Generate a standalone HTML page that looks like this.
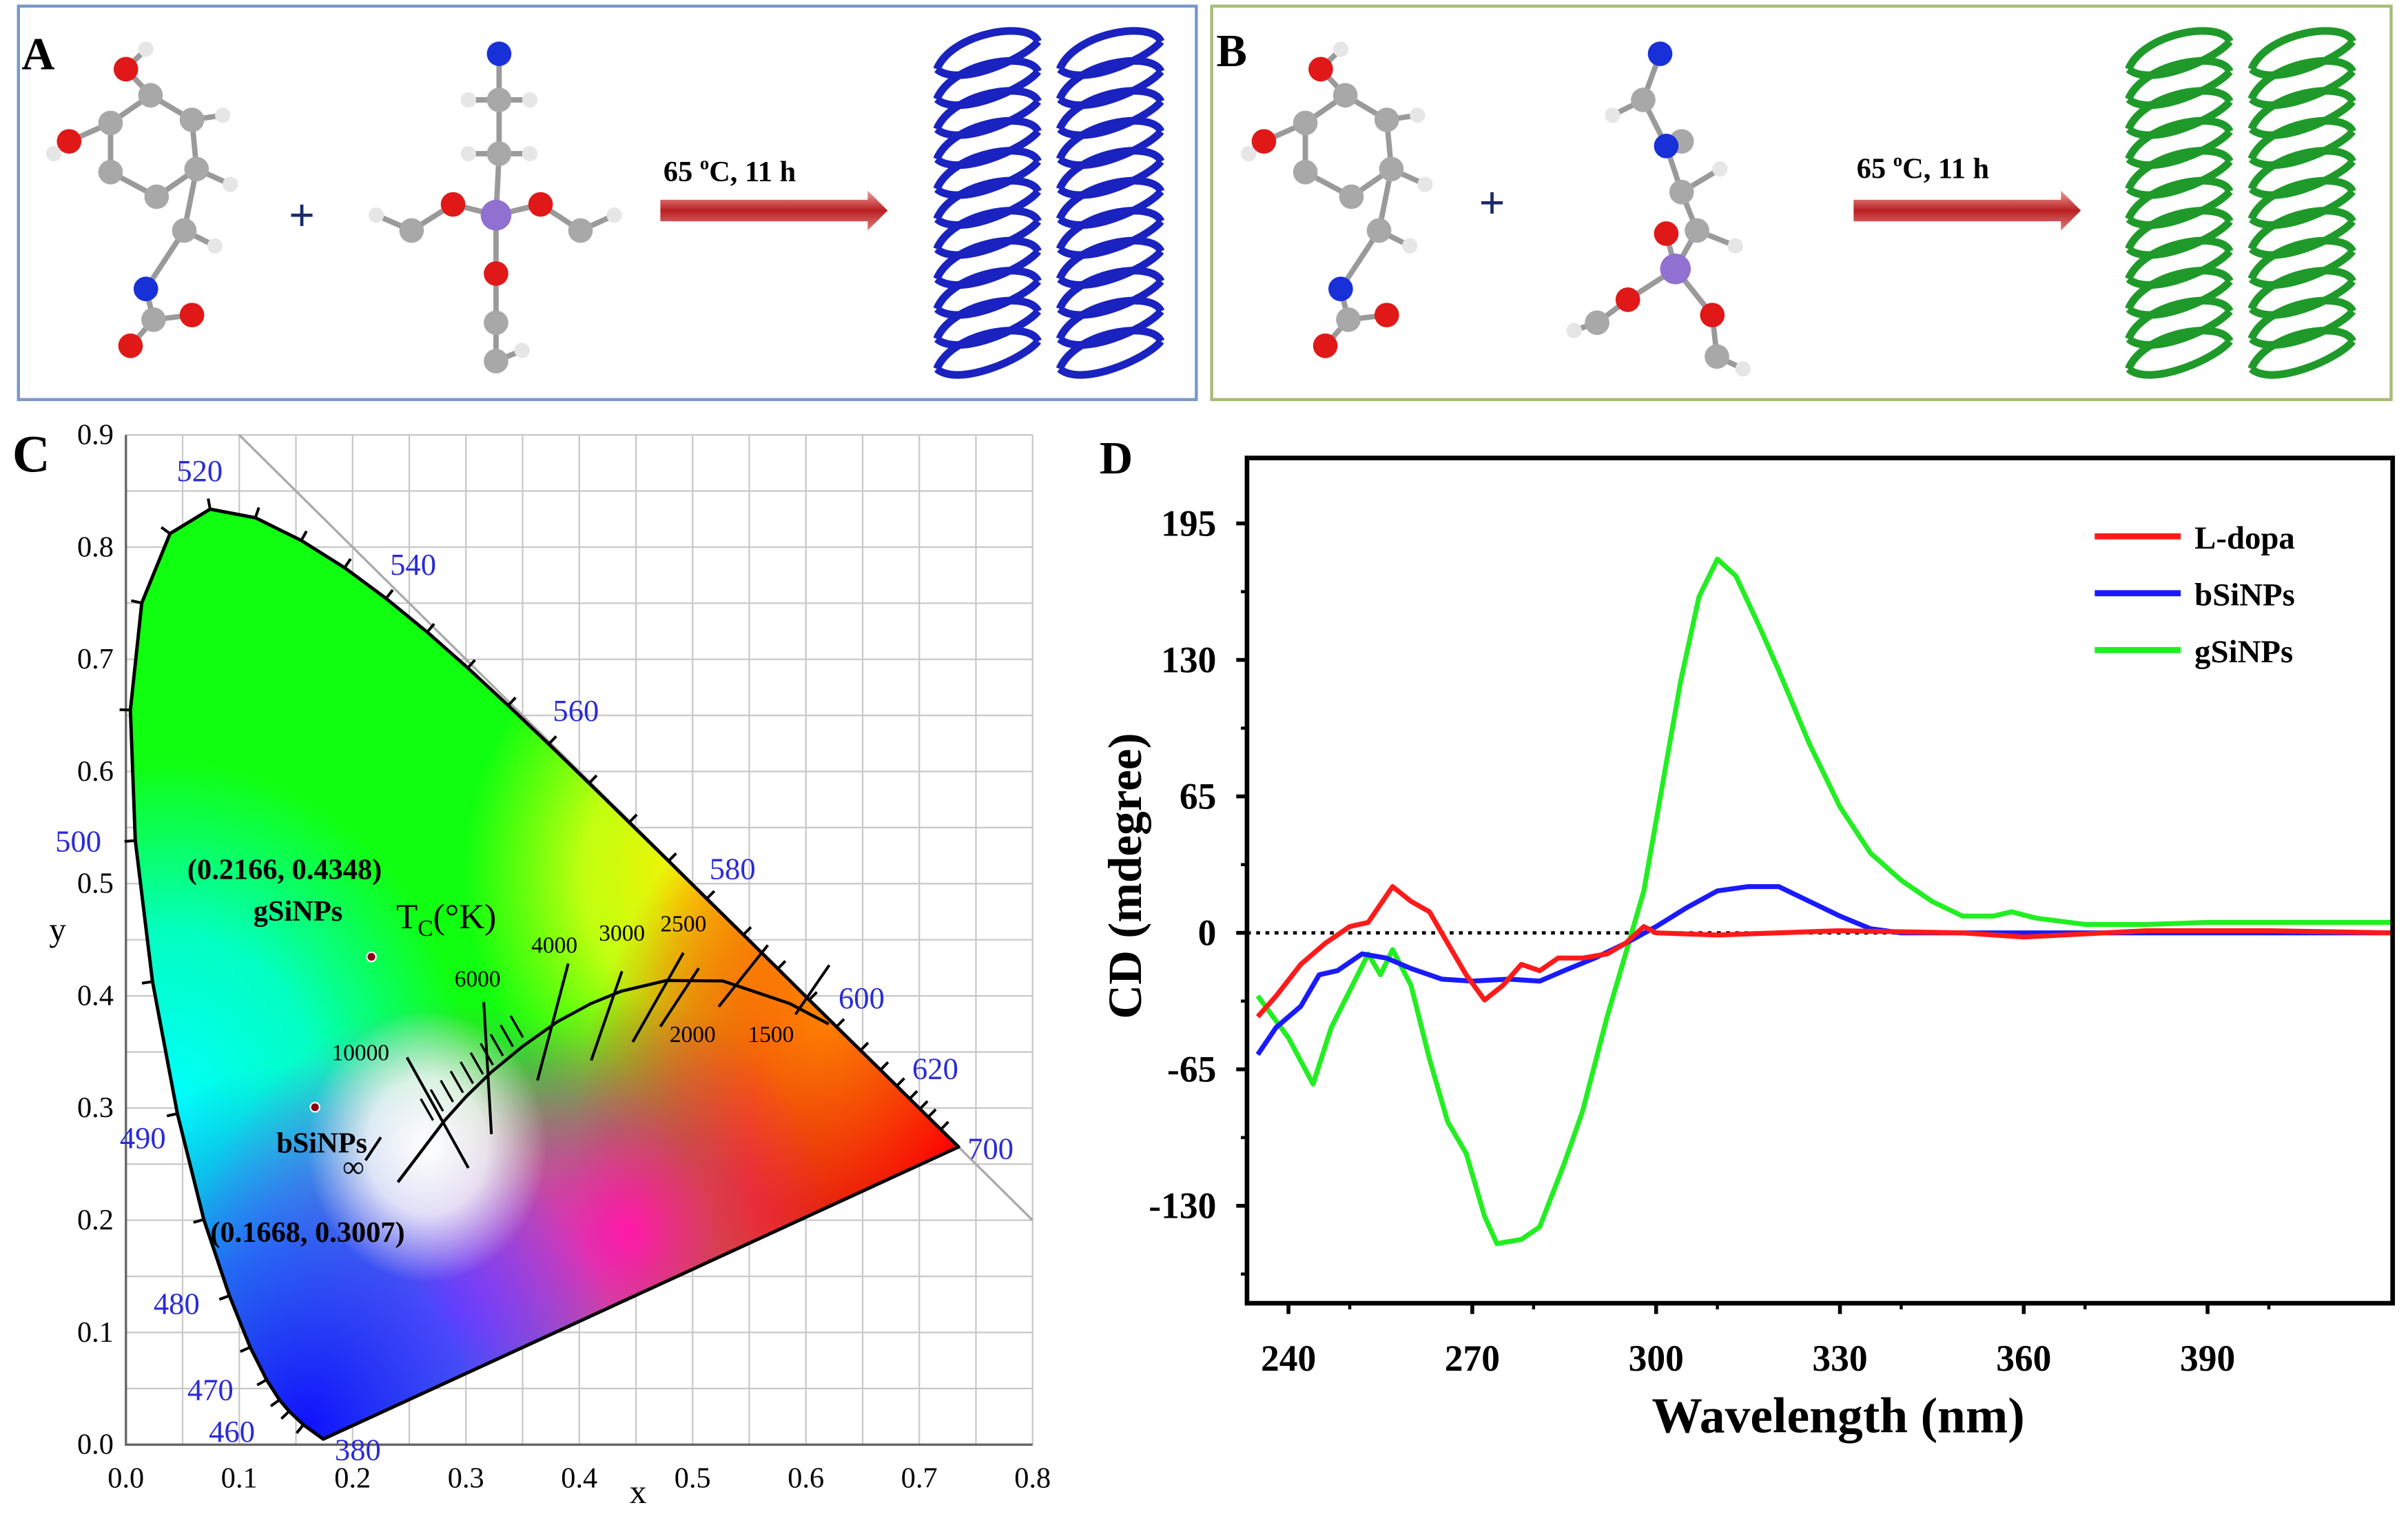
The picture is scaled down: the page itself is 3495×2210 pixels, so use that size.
<!DOCTYPE html>
<html><head><meta charset="utf-8"><style>
html,body{margin:0;padding:0;background:#fff;}
svg{display:block;font-family:"Liberation Serif",serif;}
</style></head><body>
<svg id="root" width="3495" height="2210" viewBox="0 0 1568 991" preserveAspectRatio="none" xmlns="http://www.w3.org/2000/svg">
<defs>
<radialGradient id="gRed" cx="0.91" cy="0.70" r="0.42"><stop offset="0" stop-color="#ff0000"/><stop offset="0.55" stop-color="#ff1010" stop-opacity="0.85"/><stop offset="1" stop-color="#ff0000" stop-opacity="0"/></radialGradient>
<radialGradient id="gOrange" cx="0.76" cy="0.56" r="0.2"><stop offset="0" stop-color="#ff8800"/><stop offset="1" stop-color="#ff8800" stop-opacity="0"/></radialGradient>
<radialGradient id="gBlue" cx="0.2" cy="0.97" r="0.35"><stop offset="0" stop-color="#1010ff"/><stop offset="0.5" stop-color="#2050ff" stop-opacity="0.8"/><stop offset="1" stop-color="#2060ff" stop-opacity="0"/></radialGradient>
<radialGradient id="gCyan" cx="0.05" cy="0.66" r="0.33"><stop offset="0" stop-color="#00ffff"/><stop offset="0.5" stop-color="#00ffee" stop-opacity="0.8"/><stop offset="1" stop-color="#00ffe0" stop-opacity="0"/></radialGradient>
<radialGradient id="gYel" cx="0.63" cy="0.44" r="0.26"><stop offset="0" stop-color="#ffee00"/><stop offset="0.5" stop-color="#eeff10" stop-opacity="0.8"/><stop offset="1" stop-color="#ddff00" stop-opacity="0"/></radialGradient>
<radialGradient id="gMag" cx="0.36" cy="0.86" r="0.3"><stop offset="0" stop-color="#ff10ff"/><stop offset="1" stop-color="#ff00ff" stop-opacity="0"/></radialGradient>
<radialGradient id="gPink" cx="0.55" cy="0.78" r="0.22"><stop offset="0" stop-color="#ff2080"/><stop offset="1" stop-color="#ff2080" stop-opacity="0"/></radialGradient>
<radialGradient id="gWhite" cx="0.33" cy="0.70" r="0.13"><stop offset="0" stop-color="#ffffff"/><stop offset="0.5" stop-color="#ffffff" stop-opacity="0.8"/><stop offset="1" stop-color="#ffffff" stop-opacity="0"/></radialGradient>
<linearGradient id="arrowG" x1="0" y1="0" x2="0" y2="1"><stop offset="0" stop-color="#f0a0a0"/><stop offset="0.5" stop-color="#b82020"/><stop offset="1" stop-color="#e08080"/></linearGradient>
<clipPath id="locusClip"><path id="locusClipPath" d=""/></clipPath>
</defs>

<g>
<rect x="12" y="4" width="767" height="256" fill="none" stroke="#7a98c8" stroke-width="2"/>
<text x="14" y="45" font-size="30" font-weight="bold">A</text>
<g id="molA1"></g>
<text x="188" y="150" font-size="30" fill="#1a2a6a" font-weight="bold">+</text>
<g id="molA2"></g>
<text x="432" y="118" font-size="19" font-weight="bold">65 <tspan font-size="12" dy="-8">o</tspan><tspan dy="8">C, 11 h</tspan></text>
<path d="M430,130 L565,130 L565,124 L578,137 L565,150 L565,144 L430,144 Z" fill="url(#arrowG)"/>
<g id="helixA"></g>
</g>

<g>
<rect x="789" y="4" width="768" height="256" fill="none" stroke="#a8bc78" stroke-width="2"/>
<text x="792" y="43" font-size="30" font-weight="bold">B</text>
<g id="molB1"></g>
<text x="963" y="142" font-size="30" fill="#1a2a6a" font-weight="bold">+</text>
<g id="molB2"></g>
<text x="1209" y="116" font-size="19" font-weight="bold">65 <tspan font-size="12" dy="-8">o</tspan><tspan dy="8">C, 11 h</tspan></text>
<path d="M1207,130 L1342,130 L1342,124 L1355,137 L1342,150 L1342,144 L1207,144 Z" fill="url(#arrowG)"/>
<g id="helixB"></g>
</g>

<g id="panelC">
<text x="8" y="307" font-size="34" font-weight="bold">C</text>
<g id="cGrid"></g>
<g clip-path="url(#locusClip)">
<rect x="80" y="270" width="600" height="680" fill="#10ff10"/>
<rect x="80" y="270" width="600" height="680" fill="url(#gCyan)"/>
<rect x="80" y="270" width="600" height="680" fill="url(#gYel)"/>
<rect x="80" y="270" width="600" height="680" fill="url(#gRed)"/>
<rect x="80" y="270" width="600" height="680" fill="url(#gOrange)"/>
<rect x="80" y="270" width="600" height="680" fill="url(#gPink)"/>
<rect x="80" y="270" width="600" height="680" fill="url(#gMag)"/>
<rect x="80" y="270" width="600" height="680" fill="url(#gBlue)"/>
<rect x="80" y="270" width="600" height="680" fill="url(#gWhite)"/>
</g>
<g id="cOver"></g>
<text x="410" y="978" font-size="22">x</text>
<text x="32" y="612" font-size="22">y</text>
</g>

<g id="panelD">
<text x="716" y="308" font-size="30" font-weight="bold">D</text>
<g id="dPlot"></g>
<text transform="translate(743,570) rotate(-90)" text-anchor="middle" font-size="31" font-weight="bold">CD (mdegree)</text>
<text x="1197" y="932" text-anchor="middle" font-size="33" font-weight="bold">Wavelength (nm)</text>
</g>
</svg>

<script>
const dXTicks = [240, 270, 300, 330, 360, 390];
const dYTicks = [195, 130, 65, 0, -65, -130];
const seriesNames = ["L-dopa", "bSiNPs", "gSiNPs"];
const seriesColors = ["#ff1a1a", "#1a1aff", "#22ee22"];
const ldopaWl = [235,238,242,246,250,253,257,260,263,266,269,272,275,278,281,284,288,292,295,298,300,310,330,350,360,380,400,420];
const ldopaCd = [-40,-30,-15,-5,3,5,22,15,10,-5,-20,-32,-25,-15,-18,-12,-12,-10,-5,3,0,-1,1,0,-2,1,1,0];
const bsinpWl = [235,238,242,245,248,252,256,260,265,270,276,281,285,290,295,300,305,310,315,320,325,330,335,340,350,420];
const bsinpCd = [-58,-45,-35,-20,-18,-10,-12,-17,-22,-23,-22,-23,-18,-12,-5,3,12,20,22,22,15,8,2,0,0,0];
const gsinpWl = [235,240,244,247,253,255,257,260,263,266,269,272,274,278,281,285,288,292,295,298,301,304,307,310,313,317,320,325,330,335,340,345,350,355,358,362,370,380,390,400,420];
const gsinpCd = [-30,-50,-72,-45,-10,-20,-8,-25,-60,-90,-105,-135,-148,-146,-140,-110,-85,-40,-10,20,70,120,160,178,170,145,125,90,60,38,25,15,8,8,10,7,4,4,5,5,5];

const NS = "http://www.w3.org/2000/svg";
function mk(tag, attrs, parent) { const e = document.createElementNS(NS, tag); for (const k in attrs) e.setAttribute(k, attrs[k]); parent.appendChild(e); return e; }

const dL = 812, dR = 1558, dT = 298, dB = 848;
function dx(w) { return 839 + (w - 240) * 3.99; }
function dy(v) { return 607 - v * 1.3662; }
const dPlot = document.getElementById('dPlot');
const dotLine = mk('line', {x1: dL, x2: dR, y1: dy(0), y2: dy(0), stroke: '#000', 'stroke-width': 2.2, 'stroke-dasharray': '2.5,3.5'}, dPlot);


const sets = [[ldopaWl, ldopaCd], [bsinpWl, bsinpCd], [gsinpWl, gsinpCd]];
const order = [2, 1, 0];
order.forEach(i => {
  const [w, v] = sets[i];
  let d = '';
  for (let k = 0; k < w.length; k++) d += (k ? 'L' : 'M') + dx(w[k]).toFixed(1) + ',' + dy(v[k]).toFixed(1);
  const p = mk('path', {d: d, fill: 'none', stroke: seriesColors[i], 'stroke-width': 3.2, 'stroke-linejoin': 'round'}, dPlot);
  
  
});
const frame = mk('rect', {x: dL, y: dT, width: dR - dL, height: dB - dT, fill: 'none', stroke: '#000', 'stroke-width': 3}, dPlot);


dXTicks.forEach(t => {
  const ln = mk('line', {x1: dx(t), x2: dx(t), y1: dB, y2: dB + 7, stroke: '#000', 'stroke-width': 2.5}, dPlot);
  
  
  const tx = mk('text', {x: dx(t), y: 892, 'text-anchor': 'middle', 'font-size': 24, 'font-weight': 'bold'}, dPlot);
  tx.textContent = t;
  
  
});
for (let t = 250; t < 420; t += 30) {
  const ln = mk('line', {x1: dx(t), x2: dx(t), y1: dB, y2: dB + 4, stroke: '#000', 'stroke-width': 2}, dPlot);
  
  
}
dYTicks.forEach(t => {
  const ln = mk('line', {x1: dL - 7, x2: dL, y1: dy(t), y2: dy(t), stroke: '#000', 'stroke-width': 2.5}, dPlot);
  
  
  const tx = mk('text', {x: 792, y: dy(t) + 8, 'text-anchor': 'end', 'font-size': 24, 'font-weight': 'bold'}, dPlot);
  tx.textContent = t;
  
  
});
for (let t = -162.5; t < 226; t += 32.5) {
  if (Math.abs(t / 65 - Math.round(t / 65)) < 0.01) continue;
  const ln = mk('line', {x1: dL - 4, x2: dL, y1: dy(t), y2: dy(t), stroke: '#000', 'stroke-width': 2}, dPlot);
  
  
}
seriesNames.forEach((n, i) => {
  const y = 349 + i * 37;
  const ln = mk('line', {x1: 1364, x2: 1420, y1: y, y2: y, stroke: seriesColors[i], 'stroke-width': 4}, dPlot);
  
  
  const tx = mk('text', {x: 1429, y: y + 8, 'font-size': 21, 'font-weight': 'bold'}, dPlot);
  tx.textContent = n;
  
  
});

const cXTicks = [0.0, 0.1, 0.2, 0.3, 0.4, 0.5, 0.6, 0.7, 0.8];
const cYTicks = [0.0, 0.1, 0.2, 0.3, 0.4, 0.5, 0.6, 0.7, 0.8, 0.9];
const locusX = [0.1741,0.1566,0.1440,0.1355,0.1241,0.1096,0.0913,0.0687,0.0454,0.0235,0.0082,0.0039,0.0139,0.0389,0.0743,0.1142,0.1547,0.1929,0.2296,0.2658,0.3016,0.3373,0.3731,0.4087,0.4441,0.4788,0.5125,0.5448,0.5752,0.6029,0.6270,0.6482,0.6658,0.6801,0.6915,0.7006,0.7079,0.7190,0.7347];
const locusY = [0.0050,0.0177,0.0297,0.0399,0.0578,0.0868,0.1327,0.2007,0.2950,0.4127,0.5384,0.6548,0.7502,0.8120,0.8338,0.8262,0.8059,0.7816,0.7543,0.7243,0.6923,0.6589,0.6245,0.5896,0.5547,0.5202,0.4866,0.4544,0.4242,0.3965,0.3725,0.3514,0.3340,0.3197,0.3083,0.2993,0.2920,0.2809,0.2653];
const planckX = [0.24,0.2807,0.30,0.3221,0.35,0.3805,0.41,0.4369,0.4770,0.5267,0.5857,0.62];
const planckY = [0.234,0.2883,0.31,0.3318,0.355,0.3768,0.393,0.4041,0.4137,0.4133,0.3931,0.375];
const pointNames = ["gSiNPs", "bSiNPs"];
const pointX = [0.2166, 0.1668];
const pointY = [0.4348, 0.3007];

function cx(x) { return 82 + x * 738; }
function cy(y) { return 940 - y * 730; }
const grid = document.getElementById('cGrid');
for (let i = 0; i <= 16; i++) {
  const l = mk('line', {x1: cx(i * 0.05), x2: cx(i * 0.05), y1: cy(0), y2: cy(0.9), stroke: '#c8c8c8', 'stroke-width': 1}, grid);
  
  
}
for (let i = 0; i <= 18; i++) {
  const l = mk('line', {x1: cx(0), x2: cx(0.8), y1: cy(i * 0.05), y2: cy(i * 0.05), stroke: '#c8c8c8', 'stroke-width': 1}, grid);
  
  
}
const diag = mk('line', {x1: cx(0.1), y1: cy(0.9), x2: cx(0.8), y2: cy(0.2), stroke: '#aaa', 'stroke-width': 1.5}, grid);


const ax = mk('path', {d: `M${cx(0)},${cy(0.9)}L${cx(0)},${cy(0)}L${cx(0.8)},${cy(0)}`, fill: 'none', stroke: '#666', 'stroke-width': 1.5}, grid);


cXTicks.forEach(t => {
  const tx = mk('text', {x: cx(t), y: 968, 'text-anchor': 'middle', 'font-size': 19}, grid);
  tx.textContent = t.toFixed(1);
  
  
});
cYTicks.forEach(t => {
  const tx = mk('text', {x: 74, y: cy(t) + 6, 'text-anchor': 'end', 'font-size': 19}, grid);
  tx.textContent = t.toFixed(1);
  
  
});
let ld = '';
for (let i = 0; i < locusX.length; i++) ld += (i ? 'L' : 'M') + cx(locusX[i]).toFixed(1) + ',' + cy(locusY[i]).toFixed(1);
ld += 'Z';
document.getElementById('locusClipPath').setAttribute('d', ld);
const over = document.getElementById('cOver');
const loc = mk('path', {d: ld, fill: 'none', stroke: '#000', 'stroke-width': 2.2, 'stroke-linejoin': 'round'}, over);


for (let i = 1; i < locusX.length - 1; i++) {
  const x0 = cx(locusX[i]), y0 = cy(locusY[i]);
  const tx_ = cx(locusX[i + 1]) - cx(locusX[i - 1]), ty_ = cy(locusY[i + 1]) - cy(locusY[i - 1]);
  const L = Math.hypot(tx_, ty_) || 1;
  const nx = -ty_ / L, ny = tx_ / L;
  const t = mk('line', {x1: x0, y1: y0, x2: x0 - nx * 7, y2: y0 - ny * 7, stroke: '#000', 'stroke-width': 1.8}, over);
  
  
}
let pd = '';
for (let i = 0; i < planckX.length; i++) pd += (i ? 'L' : 'M') + cx(planckX[i]).toFixed(1) + ',' + cy(planckY[i]).toFixed(1);
const pl = mk('path', {d: pd, fill: 'none', stroke: '#000', 'stroke-width': 2}, over);


const isoLines = [[265,688,305,760],[315,652,320,738],[370,627,350,703],[405,632,385,690],[445,620,412,678],[455,630,430,668],[500,615,468,655],[540,628,518,660],[248,740,238,755]];
isoLines.forEach(s => {
  const l = mk('line', {x1: s[0], y1: s[1], x2: s[2], y2: s[3], stroke: '#000', 'stroke-width': 1.8}, over);
  
  
});
for (let k = 0; k < 10; k++) {
  const x0 = 278 + k * 6.5, y0 = 722 - k * 6;
  const l = mk('line', {x1: x0 - 4, y1: y0 - 7, x2: x0 + 4, y2: y0 + 7, stroke: '#000', 'stroke-width': 1.5}, over);
  
  
}
const tLabels = [["10000",216,690],["6000",296,642],["4000",346,620],["3000",390,612],["2500",430,606],["2000",436,678],["1500",487,678]];
tLabels.forEach(a => {
  const t = mk('text', {x: a[1], y: a[2], 'font-size': 15}, over);
  t.textContent = a[0];
  
  
});
const inf = mk('text', {x: 223, y: 766, 'font-size': 20}, over);
inf.textContent = '∞';


const tc = mk('text', {x: 258, y: 604, 'font-size': 23}, over);
tc.innerHTML = 'T<tspan font-size="15" dy="5">C</tspan><tspan dy="-5">(°K)</tspan>';


const wlLabels = [["520",115,313],["540",254,374],["560",360,469],["580",462,572],["600",546,656],["620",594,702],["700",630,754],["500",36,554],["490",78,747],["480",100,855],["470",122,911],["460",136,938],["380",218,950]];
wlLabels.forEach(a => {
  const t = mk('text', {x: a[1], y: a[2], 'font-size': 20, fill: '#2a2ad8'}, over);
  t.textContent = a[0];
  
  
});
pointNames.forEach((n, i) => {
  const c = mk('circle', {cx: cx(pointX[i]), cy: cy(pointY[i]), r: 3, fill: '#8a0010', stroke: '#fff', 'stroke-width': 1}, over);
  
  
});
const ptLabels = [["(0.2166, 0.4348)",122,572,"coordinate-label-gsinps"],["gSiNPs",165,599,"name-label-gsinps"],["bSiNPs",180,750,"name-label-bsinps"],["(0.1668, 0.3007)",137,808,"coordinate-label-bsinps"]];
ptLabels.forEach(a => {
  const t = mk('text', {x: a[1], y: a[2], 'font-size': 19, 'font-weight': 'bold'}, over);
  t.textContent = a[0];
  
  
});

function atom(g, x, y, r, col) {
  const c = mk('circle', {cx: x, cy: y, r: r, fill: col, stroke: 'none'}, g);
  
  
}
function bond(g, a, b) {
  const l = mk('line', {x1: a[0], y1: a[1], x2: b[0], y2: b[1], stroke: '#9a9a9a', 'stroke-width': 3.5}, g);
  
  
}
function molecule(id, atoms, bonds) {
  const g = document.getElementById(id);
  bonds.forEach(b => bond(g, atoms[b[0]], atoms[b[1]]));
  atoms.forEach(a => atom(g, a[0], a[1], a[2], a[3]));
}
const GR = '#a8a8a8', HW = '#e6e6e6', OR = '#e01818', NB = '#1830d8', SI = '#9070d0';
const ldopa = (ox) => [[ox+82,45,8,OR],[ox+98,62,8,GR],[ox+125,78,8,GR],[ox+128,110,8,GR],[ox+102,128,8,GR],[ox+72,112,8,GR],[ox+72,80,8,GR],[ox+45,92,8,OR],[ox+120,150,8,GR],[ox+95,188,8,NB],[ox+100,208,8,GR],[ox+125,205,8,OR],[ox+85,225,8,OR],[ox+95,32,5,HW],[ox+35,100,5,HW],[ox+145,75,5,HW],[ox+150,120,5,HW],[ox+140,160,5,HW]];
const ldopaB = [[0,1],[1,2],[2,3],[3,4],[4,5],[5,6],[6,1],[6,7],[3,8],[8,9],[9,10],[10,11],[10,12],[0,13],[7,14],[2,15],[3,16],[8,17]];
molecule('molA1', ldopa(0), ldopaB);
molecule('molB1', ldopa(778), ldopaB);
molecule('molA2', [[325,35,8,NB],[325,65,8,GR],[325,100,8,GR],[323,140,10,SI],[295,133,8,OR],[352,133,8,OR],[323,178,8,OR],[268,150,8,GR],[378,150,8,GR],[323,210,8,GR],[323,235,8,GR],[245,140,5,HW],[400,140,5,HW],[305,65,5,HW],[345,65,5,HW],[305,100,5,HW],[345,100,5,HW],[340,228,5,HW]], [[0,1],[1,2],[2,3],[3,4],[3,5],[3,6],[4,7],[5,8],[6,9],[9,10],[7,11],[8,12],[1,13],[1,14],[2,15],[2,16],[10,17]]);
molecule('molB2', [[1081,35,8,NB],[1070,65,8,GR],[1095,92,8,GR],[1085,95,8,NB],[1095,125,8,GR],[1105,150,8,GR],[1091,175,10,SI],[1085,152,8,OR],[1060,195,8,OR],[1115,205,8,OR],[1040,210,8,GR],[1118,232,8,GR],[1050,75,5,HW],[1120,110,5,HW],[1130,160,5,HW],[1025,215,5,HW],[1135,240,5,HW]], [[0,1],[1,3],[3,4],[4,5],[5,6],[6,7],[6,8],[6,9],[8,10],[9,11],[1,12],[4,13],[5,14],[10,15],[11,16]]);
function helix(id, x0, col) {
  const g = document.getElementById(id);
  for (let i = 0; i < 11; i++) {
    const y = 35 + i * 19.5;
    const e = mk('path', {d: `M${x0},${y+10} C${x0+10},${y-14} ${x0+60},${y-22} ${x0+66},${y-8} M${x0},${y+10} C${x0+14},${y+22} ${x0+56},${y+4} ${x0+66},${y-8}`, fill: 'none', stroke: col, 'stroke-width': 5}, g);
    
    
  }
}
helix('helixA', 610, '#1a22c0'); helix('helixA', 690, '#1a22c0');
helix('helixB', 1386, '#1f9a2a'); helix('helixB', 1466, '#1f9a2a');
</script>
</body></html>
